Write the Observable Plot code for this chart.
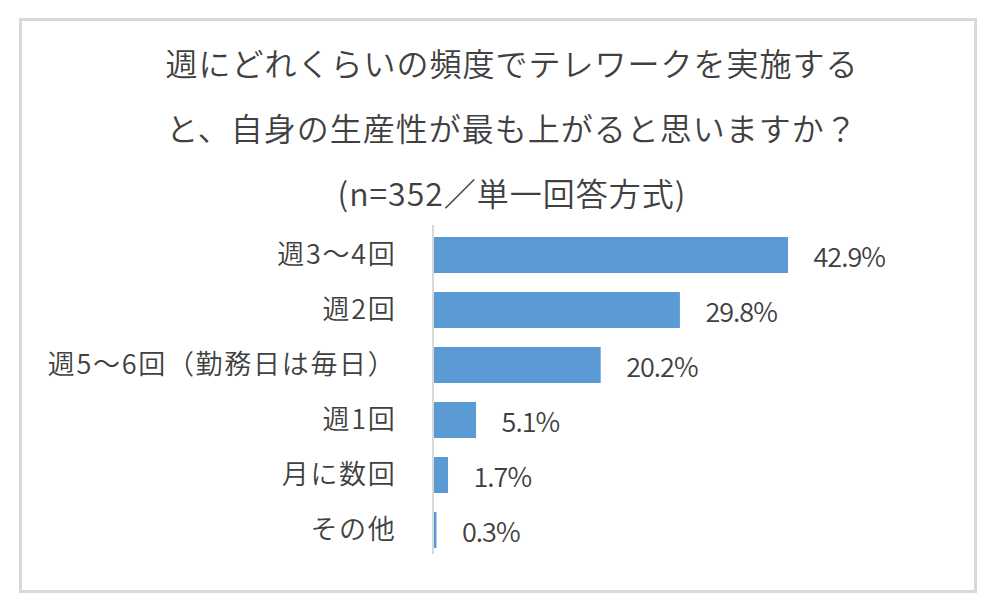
<!DOCTYPE html>
<html>
<head>
<meta charset="utf-8">
<script src="https://cdn.jsdelivr.net/npm/d3@7"></script>
<script src="https://cdn.jsdelivr.net/npm/@observablehq/plot@0.6"></script>
<style>
  body { margin: 0; background: #fff; font-family: "Noto Sans CJK JP", sans-serif; }
  #frame { position: absolute; left: 19px; top: 18px; width: 958px; height: 575px; border: 3px solid #d9d9d9; box-sizing: border-box; }
  .tline { position: absolute; left: 12px; width: 1000px; text-align: center; font-size: 32px; font-weight: 350; letter-spacing: 1px; line-height: 65px; color: #404040; white-space: nowrap; }
  #chart { position: absolute; left: 0; top: 225px; }
  #chart g[aria-label="y-axis tick label"] text { letter-spacing: 1.7px; font-weight: 350; }
  #chart g[aria-label="text"] text { letter-spacing: -1px; font-weight: 350; }
</style>
</head>
<body>
<div id="frame"></div>
<div id="title">
  <div class="tline" style="top:30px">週にどれくらいの頻度でテレワークを実施する</div>
  <div class="tline" style="top:95px">と、自身の生産性が最も上がると思いますか？</div>
  <div class="tline" style="top:160px">(n=352／単一回答方式)</div>
</div>
<div id="chart"></div>
<script>
const categories = ["週3～4回", "週2回", "週5～6回（勤務日は毎日）", "週1回", "月に数回", "その他"];
const values = [42.9, 29.8, 20.2, 5.1, 1.7, 0.3];

const data = categories.map((c, i) => ({category: c, value: values[i]}));

const chart = Plot.plot({
  width: 1000,
  height: 390,
  marginTop: 0,
  marginBottom: 56,
  marginLeft: 434,
  marginRight: 212,
  style: {fontFamily: '"Noto Sans CJK JP", sans-serif', color: "#404040", background: "transparent"},
  x: {domain: [0, d3.max(values)], axis: null},
  y: {domain: categories, paddingInner: 0.35, paddingOuter: 0.18, label: null},
  marks: [
    Plot.barX(data, {x: "value", y: "category", fill: "#5b9bd5"}),
    Plot.ruleX([0], {stroke: "#d9d9d9", strokeWidth: 2, dx: -1.5, insetBottom: 5}),
    Plot.axisY({tickSize: 0, tickPadding: 38, fontSize: 27, label: null}),
    Plot.text(data, {x: "value", y: "category", text: d => d.value.toFixed(1) + "%", textAnchor: "start", dx: 25, dy: 3, fontSize: 27, fill: "#404040"})
  ]
});
document.getElementById("chart").appendChild(chart);
</script>
</body>
</html>
